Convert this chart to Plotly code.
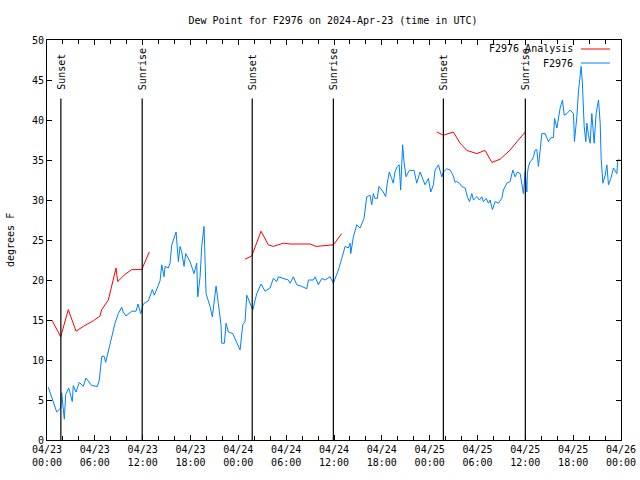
import pandas as pd
import plotly.graph_objects as go

BASE = pd.Timestamp("2024-04-23 00:00")

# Observed dew point (F2976): hours since 04/23 00:00 UTC, degrees F
obs_hours = [0.16, 1.22, 1.72, 1.84, 2.17, 2.35, 2.72, 3.17, 3.30, 3.64, 4.05, 4.55, 4.89, 5.61, 6.31,
             6.56, 6.86, 7.15, 7.36, 7.90, 8.53, 8.95, 9.37, 9.57, 9.91, 10.63, 11.17, 11.42, 11.76,
             12.08, 12.71, 13.21, 13.46, 14.18, 14.39, 14.68, 14.81, 15.22, 15.43, 15.65, 15.85, 16.19,
             16.48, 16.69, 16.90, 17.19, 17.40, 17.94, 18.44, 18.78, 18.91, 19.20, 19.41, 19.70, 19.95,
             20.45, 20.74, 20.95, 21.21, 21.49, 21.83, 21.92, 22.25, 22.46, 22.75, 23.30, 23.88, 24.22,
             24.55, 24.84, 25.06, 25.47, 25.81, 26.31, 26.85, 27.35, 27.98, 28.39, 28.82, 29.02, 29.65,
             30.28, 30.49, 30.90, 31.33, 31.96, 32.59, 32.79, 33.41, 33.63, 34.04, 34.47, 34.88, 35.51,
             35.92, 36.55, 36.98, 37.39, 37.80, 38.02, 38.10, 38.43, 38.85, 39.27, 39.77, 40.10, 40.52,
             40.73, 40.93, 41.14, 41.43, 41.64, 42.18, 42.48, 42.68, 42.93, 43.23, 43.43, 43.65, 43.93,
             44.18, 44.36, 44.61, 44.78, 45.03, 45.45, 46.04, 46.38, 46.80, 47.14, 47.42, 47.84, 48.14,
             48.47, 48.68, 49.10, 49.52, 49.72, 50.14, 50.56, 50.97, 51.19, 51.40, 51.72, 52.02, 52.45,
             52.73, 52.99, 53.29, 53.49, 53.91, 54.24, 54.54, 54.74, 55.08, 55.37, 55.58, 55.87, 56.21,
             56.62, 57.05, 57.25, 57.68, 58.09, 58.43, 58.72, 59.01, 59.35, 59.56, 59.76, 59.98, 60.19,
             60.26, 60.39, 60.60, 60.82, 61.02, 61.23, 61.44, 61.64, 61.86, 62.07, 62.48, 62.90, 63.20,
             63.53, 63.66, 63.96, 64.37, 64.66, 64.87, 65.21, 65.62, 66.04, 66.16, 66.46, 66.66, 66.88,
             67.00, 67.16, 67.38, 67.59, 67.72, 67.92, 68.13, 68.34, 68.63, 68.88, 69.05, 69.18, 69.39,
             69.51, 69.73, 70.02, 70.23, 70.43, 70.73, 71.05, 71.48, 71.60, 71.89]
obs_values = [6.6, 3.5, 4.0, 5.9, 2.6, 5.7, 6.5, 4.8, 6.8, 6.0, 7.2, 6.7, 7.75, 6.8, 6.7,
              7.5, 10.4, 10.5, 9.7, 12.1, 14.6, 15.8, 16.6, 16.0, 15.5, 16.1, 16.1, 17.0, 15.8,
              17.0, 17.4, 18.8, 18.1, 19.9, 21.9, 20.4, 21.7, 21.5, 22.1, 24.4, 25.0, 26.0,
              22.3, 24.2, 23.5, 21.7, 23.3, 22.3, 20.8, 22.1, 17.9, 20.4, 24.2, 26.7, 18.3,
              16.7, 15.4, 17.5, 19.25, 17.1, 14.4, 12.1, 12.1, 14.6, 13.5, 13.3, 12.1, 11.25,
              14.4, 14.8, 18.1, 17.1, 16.25, 18.3, 19.5, 18.6, 19.0, 20.2, 19.8, 20.4, 20.2,
              20.0, 19.6, 20.4, 19.4, 19.2, 18.9, 20.0, 20.0, 20.4, 19.4, 20.2, 20.0, 20.4,
              19.6, 21.25, 22.7, 24.2, 24.0, 24.6, 23.3, 25.4, 26.9, 26.5, 27.7, 30.4, 30.6,
              29.4, 30.8, 30.2, 30.2, 31.7, 31.0, 30.4, 32.1, 33.5, 32.7, 32.1, 33.5, 34.2,
              34.4, 31.25, 36.9, 34.8, 32.9, 33.7, 33.7, 32.1, 33.5, 32.7, 31.9, 32.7, 31.0,
              31.9, 33.75, 34.4, 32.9, 33.5, 33.9, 33.75, 33.0, 32.2, 32.3, 32.1, 31.7, 31.5,
              30.4, 29.8, 30.8, 30.0, 30.4, 30.0, 30.4, 29.8, 30.2, 29.6, 30.0, 28.8, 29.8,
              29.6, 30.2, 31.25, 32.1, 32.3, 33.75, 32.9, 33.5, 33.3, 31.7, 30.8, 33.5, 31.0,
              33.3, 34.2, 34.8, 35.0, 35.4, 36.25, 36.3, 34.2, 36.25, 38.3, 38.3, 37.3, 37.8,
              37.8, 40.2, 39.0, 41.5, 42.5, 40.6, 40.8, 41.25, 40.8, 37.3, 40.4, 43.5, 45.2,
              46.7, 44.6, 39.2, 37.3, 39.6, 38.1, 37.1, 40.8, 37.1, 40.8, 41.7, 42.5, 39.6,
              35.2, 32.1, 33.1, 34.4, 31.9, 32.7, 34.0, 33.3, 35.0, 35.0]

# Analysis dew point (F2976 Analysis), three separate segments
ana1_hours = [0.6, 1.72, 2.67, 3.64, 4.55, 5.81, 6.65, 6.86, 7.69, 8.32, 8.66, 8.87, 9.78, 10.63, 11.88, 12.83]
ana1_values = [15.0, 12.9, 16.3, 13.6, 14.2, 14.9, 15.5, 16.3, 17.5, 20.0, 21.5, 19.8, 20.7, 21.3, 21.3, 23.5]
ana2_hours = [24.84, 25.68, 26.85, 27.76, 28.39, 29.65, 30.49, 33.0, 33.75, 35.92, 36.97]
ana2_values = [22.6, 23.0, 26.1, 24.4, 24.2, 24.6, 24.5, 24.5, 24.2, 24.4, 25.8]
ana3_hours = [48.9, 49.72, 50.97, 51.82, 52.66, 53.91, 54.95, 55.8, 56.84, 58.09, 59.13, 59.98]
ana3_values = [38.5, 38.1, 38.5, 37.1, 36.2, 35.8, 36.2, 34.7, 35.1, 36.25, 37.5, 38.5]

# Sun events (hours since 04/23 00:00 UTC)
sun_hours = [1.74, 11.94, 25.74, 35.92, 49.72, 60.0]
sun_labels = ["Sunset", "Sunrise", "Sunset", "Sunrise", "Sunset", "Sunrise"]
sun_line_top = 42.7
sun_label_base = 43.5

y_ticks = [0, 5, 10, 15, 20, 25, 30, 35, 40, 45, 50]


def to_time(hours):
    return [BASE + pd.Timedelta(hours=h) for h in hours]


RED = "#ff0000"
BLUE = "#0080ff"
FONT = "DejaVu Sans Mono"

L, R, T, B = 47, 621, 40, 440
PW, PH = R - L, B - T

ana_x = to_time(ana1_hours) + [None] + to_time(ana2_hours) + [None] + to_time(ana3_hours)
ana_y = ana1_values + [None] + ana2_values + [None] + ana3_values

fig = go.Figure()
fig.add_trace(go.Scatter(x=ana_x, y=ana_y, mode="lines", line=dict(color=RED, width=1),
                         connectgaps=False, showlegend=False, name="F2976 Analysis"))
fig.add_trace(go.Scatter(x=to_time(obs_hours), y=obs_values, mode="lines",
                         line=dict(color=BLUE, width=1), showlegend=False, name="F2976"))

shapes = []
annotations = []
for h, lab in zip(sun_hours, sun_labels):
    t = BASE + pd.Timedelta(hours=h)
    shapes.append(dict(type="line", xref="x", yref="y", x0=t, x1=t, y0=0, y1=sun_line_top,
                       line=dict(color="black", width=1.2)))
    annotations.append(dict(x=t, y=sun_label_base, xref="x", yref="y", text=lab, textangle=-90,
                            showarrow=False, xanchor="center", yanchor="bottom",
                            font=dict(family=FONT, size=10, color="black")))

# gnuplot-style legend (text then line sample), top right
legend_items = [("F2976 Analysis", RED), ("F2976", BLUE)]
for i, (name, col) in enumerate(legend_items):
    ypix = 49 + i * 14
    yp = 1 - (ypix - T) / PH
    annotations.append(dict(x=(575 - L) / PW, y=yp, xref="paper", yref="paper", text=name,
                            showarrow=False, xanchor="right", yanchor="middle",
                            font=dict(family=FONT, size=10, color="black")))
    shapes.append(dict(type="line", xref="paper", yref="paper", x0=(581 - L) / PW,
                       x1=(610 - L) / PW, y0=yp, y1=yp, line=dict(color=col, width=1)))

annotations.append(dict(x=(10 - L) / PW, y=0.5, xref="paper", yref="paper", text="degrees F",
                        textangle=-90, showarrow=False, xanchor="center", yanchor="middle",
                        font=dict(family=FONT, size=10, color="black")))

fig.update_layout(
    width=640, height=480,
    margin=dict(l=L, r=640 - R, t=T, b=480 - B, autoexpand=False),
    paper_bgcolor="white", plot_bgcolor="white",
    title=dict(text="Dew Point for F2976 on 2024-Apr-23 (time in UTC)", x=333 / 640, xanchor="center",
               xref="container", yref="container", y=1 - 20 / 480, yanchor="middle",
               font=dict(family=FONT, size=10, color="black")),
    font=dict(family=FONT, size=10, color="black"),
    shapes=shapes,
    annotations=annotations,
    showlegend=False,
)

fig.update_xaxes(
    range=[BASE, BASE + pd.Timedelta(hours=72)], automargin=False,
    tickformat="%m/%d<br>%H:%M", dtick=6 * 3600 * 1000, tick0=BASE,
    ticks="inside", ticklen=5, tickcolor="black", showline=True, linecolor="black", linewidth=1,
    mirror="ticks", showgrid=False, zeroline=False,
    minor=dict(dtick=2 * 3600 * 1000, ticks="inside", ticklen=4, tickcolor="black", showgrid=False),
    tickfont=dict(family=FONT, size=10, color="black"),
)
fig.update_yaxes(
    range=[0, 50], tickvals=y_ticks, ticks="inside", ticklen=5, tickcolor="black", automargin=False,
    showline=True, linecolor="black", linewidth=1, mirror="ticks", showgrid=False, zeroline=False,
    tickfont=dict(family=FONT, size=10, color="black"),
)

fig.write_html("out.html")
